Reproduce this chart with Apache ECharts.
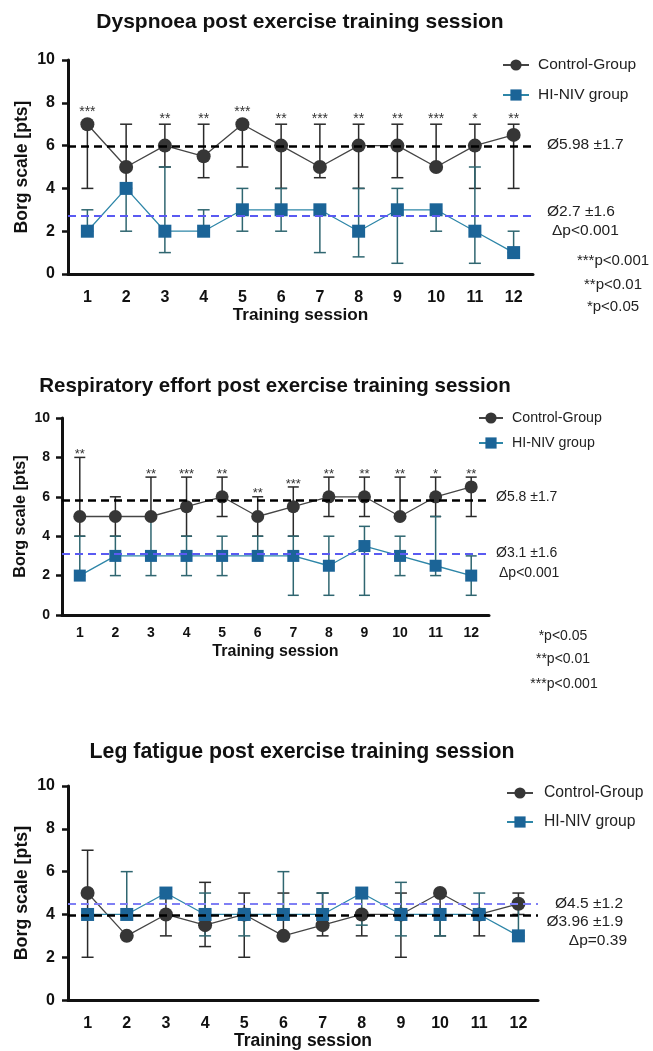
<!DOCTYPE html>
<html><head><meta charset="utf-8">
<script src="https://cdn.jsdelivr.net/npm/echarts@6/dist/echarts.min.js"></script>
<style>html,body{margin:0;padding:0;background:#fff}#c{width:653px;height:1051px}</style>
</head><body><div id="c"></div>
<script>
const sessions = ['1','2','3','4','5','6','7','8','9','10','11','12'];
const yTicks = [0, 2, 4, 6, 8, 10];

// Panel 1: Dyspnoea
const dysCtrl   = [7, 5, 6, 5.5, 7, 6, 5, 6, 6, 5, 6, 6.5];
const dysCtrlLo = [4, 4, 5, 4.5, 5, 4, 4.5, 4, 4.5, 5, 4, 4];
const dysCtrlHi = [7, 7, 7, 7, 7, 7, 7, 7, 7, 7, 7, 7];
const dysNiv    = [2, 4, 2, 2, 3, 3, 3, 2, 3, 3, 2, 1];
const dysNivLo  = [2, 2, 1, 2, 2, 2, 1, 0.8, 0.5, 2, 0.5, 1];
const dysNivHi  = [3, 4, 5, 3, 4, 4, 3, 4, 4, 3, 5, 2];
const dysStars  = ['***','','**','**','***','**','***','**','**','***','*','**'];
const dysMeans  = [5.98, 2.7];

// Panel 2: Respiratory effort
const resCtrl   = [5, 5, 5, 5.5, 6, 5, 5.5, 6, 6, 5, 6, 6.5];
const resCtrlLo = [4, 4, 5, 4, 5, 4, 4, 5, 5, 5, 5, 5];
const resCtrlHi = [8, 6, 7, 7, 7, 6, 6.5, 7, 7, 7, 7, 7];
const resNiv    = [2, 3, 3, 3, 3, 3, 3, 2.5, 3.5, 3, 2.5, 2];
const resNivLo  = [2, 2, 2, 2, 2, 3, 1, 1, 1, 2, 2, 1];
const resNivHi  = [4, 4, 5, 4, 4, 4, 4, 4, 4.5, 4, 5, 3];
const resStars  = ['**','','**','***','**','**','***','**','**','**','*','**'];
const resMeans  = [5.8, 3.1];

// Panel 3: Leg fatigue
const legCtrl   = [5, 3, 4, 3.5, 4, 3, 3.5, 4, 4, 5, 4, 4.5];
const legCtrlLo = [2, 3, 3, 2.5, 2, 3, 3, 3, 2, 3, 3, 4];
const legCtrlHi = [7, 3, 5, 5.5, 5, 5, 5, 4, 5, 5, 4, 5];
const legNiv    = [4, 4, 5, 4, 4, 4, 4, 5, 4, 4, 4, 3];
const legNivLo  = [4, 4, 5, 3, 3, 4, 4, 3.5, 3, 3, 4, 3];
const legNivHi  = [4, 6, 5, 5, 4, 6, 5, 5, 5.5, 4, 5, 4.5];
const legStars  = ['','','','','','','','','','','',''];
const legMeans  = [3.96, 4.5];

const FONT = '"Liberation Sans", Arial, sans-serif';
const CTRL_FILL = '#363636', CTRL_LINE = '#454545', CTRL_ERR = '#2a2a2a';
const NIV_FILL = '#1b6497', NIV_LINE = '#2e86a8', NIV_ERR = '#2f6670';

const panels = [
  {ctrl:dysCtrl, cLo:dysCtrlLo, cHi:dysCtrlHi, niv:dysNiv, nLo:dysNivLo, nHi:dysNivHi, stars:dysStars, means:dysMeans,
   grid:{left:68, top:60, width:465, height:214}, lab:16, nameF:17.6, xNameF:17.2, cap:12, circ:14, sq:13, starF:14, starOff:5,
   xMargin:16, yMargin:13, yNameGap:37, xNameGap:29, meanC:'#5a5af2'},
  {ctrl:resCtrl, cLo:resCtrlLo, cHi:resCtrlHi, niv:resNiv, nLo:resNivLo, nHi:resNivHi, stars:resStars, means:resMeans,
   grid:{left:62, top:418, width:427, height:197}, lab:14, nameF:16.2, xNameF:16, cap:11, circ:13, sq:12, starF:13, starOff:3,
   xMargin:11, yMargin:12, yNameGap:33, xNameGap:29, meanC:'#5a5af2'},
  {ctrl:legCtrl, cLo:legCtrlLo, cHi:legCtrlHi, niv:legNiv, nLo:legNivLo, nHi:legNivHi, stars:legStars, means:legMeans,
   grid:{left:68, top:786, width:470, height:218}, lab:16, nameF:17.8, xNameF:17.5, cap:12, circ:14, sq:13, starF:14, starOff:5,
   xMargin:15, yMargin:13, yNameGap:37, xNameGap:31, meanC:'#7f7ff5'}
];

function errSeries(idx, lo, hi, color, capW, stars, p) {
  return {
    type: 'custom', name: 'err' + idx + color, xAxisIndex: idx, yAxisIndex: idx, z: 1, silent: true,
    data: lo.map((l, i) => [i, l, hi[i]]),
    encode: {x: 0, y: [1, 2]},
    renderItem: (params, api) => {
      const i = api.value(0);
      const a = api.coord([i, api.value(1)]);
      const b = api.coord([i, api.value(2)]);
      const st = {stroke: color, lineWidth: 1.5};
      const ch = [
        {type: 'line', shape: {x1: a[0], y1: a[1], x2: b[0], y2: b[1]}, style: st},
        {type: 'line', shape: {x1: a[0] - capW / 2, y1: a[1], x2: a[0] + capW / 2, y2: a[1]}, style: st},
        {type: 'line', shape: {x1: b[0] - capW / 2, y1: b[1], x2: b[0] + capW / 2, y2: b[1]}, style: st}
      ];
      if (stars && stars[params.dataIndex]) {
        const m = api.coord([i, p.ctrl[params.dataIndex]]);
        const top = Math.min(b[1], m[1] - p.circ / 2);
        ch.push({type: 'text', x: b[0], y: top - p.starOff, style: {text: stars[params.dataIndex], align: 'center', verticalAlign: 'middle', font: p.starF + 'px ' + FONT, fill: '#333'}});
      }
      return {type: 'group', children: ch};
    }
  };
}

const grids = [], xAxes = [], yAxes = [], series = [];
panels.forEach((p, k) => {
  grids.push(p.grid);
  xAxes.push({
    type: 'category', gridIndex: k, data: sessions, boundaryGap: true,
    name: 'Training session', nameLocation: 'middle', nameGap: p.xNameGap,
    nameTextStyle: {fontFamily: FONT, fontWeight: 'bold', fontSize: p.xNameF, color: '#111'},
    axisLine: {lineStyle: {color: '#111', width: 3}},
    axisTick: {alignWithLabel: true, length: 7, lineStyle: {width: 2.5, color: '#111'}},
    axisLabel: {fontFamily: FONT, fontWeight: 'bold', fontSize: p.lab, color: '#111', margin: p.xMargin}
  });
  yAxes.push({
    type: 'value', gridIndex: k, min: yTicks[0], max: yTicks[yTicks.length - 1], interval: 2,
    name: 'Borg scale [pts]', nameLocation: 'middle', nameGap: p.yNameGap, nameMoveOverlap: false,
    nameTextStyle: {fontFamily: FONT, fontWeight: 'bold', fontSize: p.nameF, color: '#111'},
    axisLine: {show: true, lineStyle: {color: '#111', width: 3}},
    axisTick: {show: true, length: 6, lineStyle: {width: 2.5, color: '#111'}},
    splitLine: {show: false},
    axisLabel: {fontFamily: FONT, fontWeight: 'bold', fontSize: p.lab, color: '#111', margin: p.yMargin}
  });
  series.push(errSeries(k, p.cLo, p.cHi, CTRL_ERR, p.cap, p.stars, p));
  series.push(errSeries(k, p.nLo, p.nHi, NIV_ERR, p.cap, null, p));
  series.push({
    type: 'line', name: 'Control-Group', xAxisIndex: k, yAxisIndex: k, data: p.ctrl, z: 3,
    symbol: 'circle', symbolSize: p.circ, itemStyle: {color: CTRL_FILL},
    lineStyle: {color: CTRL_LINE, width: 1.3}, animation: false,
    markLine: {silent: true, symbol: 'none', label: {show: false}, animation: false,
      lineStyle: {type: [8, 5], width: 2.5, color: '#000'}, data: [{yAxis: p.means[0]}]}
  });
  series.push({
    type: 'line', name: 'HI-NIV group', xAxisIndex: k, yAxisIndex: k, data: p.niv, z: 4,
    symbol: 'rect', symbolSize: p.sq, itemStyle: {color: NIV_FILL},
    lineStyle: {color: NIV_LINE, width: 1.3}, animation: false,
    markLine: {silent: true, symbol: 'none', label: {show: false}, animation: false,
      lineStyle: {type: [8, 5], width: 2, color: p.meanC}, data: [{yAxis: p.means[1]}]}
  });
});

function txt(x, y, s, size, align, bold) {
  return {type: 'text', x: x, y: y, silent: true,
    style: {text: s, font: (bold ? 'bold ' : '') + size + 'px ' + FONT, fill: bold ? '#111' : '#222', align: align || 'left', verticalAlign: 'middle'}};
}

const graphics = [
  txt(300, 22, 'Dyspnoea post exercise training session', 21, 'center', true),
  txt(275, 386, 'Respiratory effort post exercise training session', 20.5, 'center', true),
  txt(302, 752, 'Leg fatigue post exercise training session', 21.3, 'center', true),
  txt(547, 145, 'Ø5.98 ±1.7', 15.5),
  txt(547, 212, 'Ø2.7 ±1.6', 15.5),
  txt(552, 231, 'Δp<0.001', 15.5),
  txt(613, 261, '***p<0.001', 15, 'center'),
  txt(613, 285, '**p<0.01', 15, 'center'),
  txt(613, 307, '*p<0.05', 15, 'center'),
  txt(496, 497, 'Ø5.8 ±1.7', 14),
  txt(496, 553, 'Ø3.1 ±1.6', 14),
  txt(499, 573, 'Δp<0.001', 14),
  txt(563, 636, '*p<0.05', 14, 'center'),
  txt(563, 659, '**p<0.01', 14, 'center'),
  txt(564, 684, '***p<0.001', 14, 'center'),
  txt(623, 904, 'Ø4.5 ±1.2', 15.5, 'right'),
  txt(623, 922, 'Ø3.96 ±1.9', 15.5, 'right'),
  txt(627, 941, 'Δp=0.39', 15.5, 'right')
];

const legNames = ['Control-Group', 'HI-NIV group'];
const legends = [
  {left: 502, top: 57, itemGap: 14, fs: 15.5, w: 26, pad: 4},
  {left: 478, top: 411, itemGap: 11, fs: 14.2, w: 24, pad: 4},
  {left: 506, top: 785, itemGap: 13, fs: 15.7, w: 26, pad: 6}
].map(l => ({
  data: legNames, orient: 'vertical', left: l.left, top: l.top, itemGap: l.itemGap, padding: 0,
  itemWidth: l.w, itemHeight: 14, selectedMode: false,
  textStyle: {fontFamily: FONT, fontSize: l.fs, color: '#222', padding: [0, 0, 0, l.pad]}
}));

const chart = echarts.init(document.getElementById('c'), null, {renderer: 'canvas'});
chart.setOption({
  animation: false,
  backgroundColor: '#fff',
  grid: grids, xAxis: xAxes, yAxis: yAxes, series: series,
  legend: legends, graphic: graphics
});
</script></body></html>
